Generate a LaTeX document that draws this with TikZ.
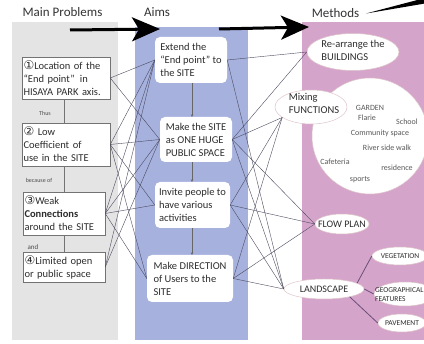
\documentclass[tikz,border=0pt]{standalone}
\usepackage{fontspec}
\setmainfont{Carlito}
\newfontfamily\symfont{DejaVu Sans}
\usetikzlibrary{shapes.geometric,arrows.meta}
\definecolor{panelgray}{RGB}{228,228,228}
\definecolor{panelblue}{RGB}{166,177,222}
\definecolor{panelpink}{RGB}{213,164,203}
\definecolor{linecol}{RGB}{75,75,95}
\definecolor{txtcol}{RGB}{45,45,45}
\definecolor{pinkline}{RGB}{222,196,200}
\definecolor{subline}{RGB}{105,80,120}
\newcommand{\cnum}[1]{{\symfont\fontsize{12}{13}\selectfont #1}}
\begin{document}
\begin{tikzpicture}[x=1pt,y=-1pt,
  every node/.style={text=txtcol},
  header/.style={font=\fontsize{13}{15}\selectfont, text=black!80},
  pbox/.style={draw=black!55, fill=white, line width=0.5pt, align=left, inner xsep=1.5pt, inner ysep=0pt, font=\fontsize{10.5}{13}\selectfont},
  abox/.style={fill=white, rounded corners=5pt, align=left, inner xsep=3pt, inner ysep=0pt, font=\fontsize{10.5}{13}\selectfont},
  meth/.style={ellipse, draw=pinkline, fill=white, line width=0.5pt, inner sep=0pt},
  mtext/.style={font=\fontsize{10.5}{13}\selectfont, align=left, inner sep=0pt},
  stext/.style={font=\fontsize{7.5}{9.5}\selectfont, align=left, inner sep=0pt},
  ctext/.style={font=\fontsize{8}{10}\selectfont, text=black!65, inner sep=0pt},
  small/.style={font=\fontsize{6}{7}\selectfont, text=black!70, inner sep=0pt},
  conn/.style={draw=linecol, line width=0.4pt},
  vline/.style={draw=black!55, line width=0.6pt},
  aline/.style={draw=black!60, line width=0.45pt, -{Stealth[length=2.5pt,width=2.5pt]}},
  bigarrow/.style={line width=3pt, -{Stealth[length=28pt, width=24pt, inset=7pt]}}
]
\useasboundingbox (0,0) rectangle (424,344);
% panels
\fill[panelgray] (12,22) rectangle (118,340);
\fill[panelblue] (135,27) rectangle (248,340);
\fill[panelpink] (302,22) rectangle (426,340);

% headers
\node[header] (h1) at (62.5,12) {Main Problems};
\node[header] (h2) at (157,12) {Aims};
\node[header] (h3) at (335.5,13) {Methods};

% big arrows
\coordinate (ar1s) at (70,30);
\coordinate (ar1e) at (160,29);
\coordinate (ar2s) at (219,29);
\coordinate (ar2e) at (309,27);
\draw[bigarrow] (ar1s) -- (ar1e);
\draw[bigarrow] (ar2s) -- (ar2e);
\fill[black] (366,13.5) -- (425,-2) -- (425,3.5) -- cycle;

% problems
\node[pbox, minimum width=88pt, minimum height=42pt, text width=85pt] (p1) at (66,78)
  {\cnum{①}Location of the\\``End point''\, in\\HISAYA PARK axis.};
\node[pbox, minimum width=88pt, minimum height=43pt, text width=85pt] (p2) at (66,144.5)
  {\cnum{②} Low\\Coefficient of\\use in the SITE};
\node[pbox, minimum width=82pt, minimum height=43pt, text width=79pt] (p3) at (64,213.5)
  {\cnum{③}Weak\\\textbf{Connections}\\around the SITE};
\node[pbox, minimum width=82pt, minimum height=30pt, text width=79pt] (p4) at (64,267)
  {\cnum{④}Limited open\\or public space};

\draw[vline] (p3.north |- p1.south) -- (p3.north |- p2.north);
\draw[vline] (p3.north |- p2.south) -- (p3.north);
\draw[vline] (p3.south) -- (p4.north);
\node[small] (l1) at (45,113) {Thus};
\node[small] (l2) at (39,180) {because of};
\node[small, font=\fontsize{7}{8}\selectfont] (l3) at (33,247) {and};

% aims
\node[abox, minimum width=72pt, minimum height=46pt] (a1) at (191,60)
  {Extend the\\``End point'' to\\the SITE};
\node[abox, minimum width=72pt, minimum height=45pt] (a2) at (196,139.5)
  {Make the SITE\\as ONE HUGE\\PUBLIC SPACE};
\node[abox, minimum width=75pt, minimum height=46pt] (a3) at (192.5,205)
  {Invite people to\\have various\\activities};
\node[abox, minimum width=86pt, minimum height=47pt] (a4) at (190,278.5)
  {Make DIRECTION\\of Users to the\\SITE};

\draw[aline] (a1.south -| 192,0) -- (a2.north -| 192,0);
\draw[aline] (a2.south -| 192,0) -- (a3.north -| 192,0);
\draw[aline] (a3.south -| 192,0) -- (a4.north -| 192,0);

% methods
\node[meth, minimum width=92pt, minimum height=37pt] (m1) at (353,52) {};
\node[mtext] (m1t) at (353,50.5) {Re-arrange the\\BUILDINGS};
\node[circle, fill=white, draw=pinkline, line width=0.5pt, minimum size=116pt, inner sep=0pt] (fc) at (370,136) {};
\node[meth, minimum width=72pt, minimum height=34pt] (m2) at (311,107) {};
\node[mtext] (m2t) at (314,103) {Mixing\\FUNCTIONS};
\node[ctext] (c1) at (370,108) {GARDEN};
\node[ctext] (c2) at (367,118) {Flarie};
\node[ctext] (c3) at (407,122) {School};
\node[ctext] (c4) at (380,133) {Community space};
\node[ctext] (c5) at (387,148) {River side walk};
\node[ctext] (c6) at (335,162) {Cafeteria};
\node[ctext] (c7) at (397,168) {residence};
\node[ctext] (c8) at (360,180) {sports};

\node[meth, minimum width=54pt, minimum height=20pt] (flow) at (342,224) {};
\node[mtext, font=\fontsize{10}{12}\selectfont] (flowt) at (flow) {FLOW PLAN};
\node[meth, minimum width=80pt, minimum height=20pt] (land) at (324,289) {};
\node[mtext, font=\fontsize{10}{12}\selectfont] (landt) at (land) {LANDSCAPE};
\node[meth, minimum width=56pt, minimum height=18pt] (veg) at (400,256) {};
\node[stext] (vegt) at (veg) {VEGETATION};
\node[meth, minimum width=62pt, minimum height=24pt] (geo) at (405,294) {};
\node[stext, anchor=west] (geot) at (375,294.5) {GEOGRAPHICAL\\FEATURES};
\node[meth, minimum width=48pt, minimum height=18pt] (pave) at (402,323) {};
\node[stext] (pavet) at (pave) {PAVEMENT};

\draw[subline, line width=0.8pt] (land.10) -- (veg.west);
\draw[subline, line width=0.8pt] (land.east) -- (geo.west);
\draw[subline, line width=0.8pt] (land.-17) -- (pave.west);

% problem -> aim connectors
\foreach \p/\a in {p1/a1, p1/a2, p2/a1, p2/a2, p2/a3, p2/a4, p3/a1, p3/a2, p3/a3, p3/a4, p4/a1, p4/a2}
  \draw[conn] (\p.east) -- (\a.west);

% aim -> method connectors
\foreach \a/\m in {a1/m1.west, a1/land.west, a2/m1.west, a2/m2.200, a2/flow.west, a2/land.west, a3/m2.200, a3/flow.west, a3/land.west, a4/m2.200, a4/flow.west, a4/land.west}
  \draw[conn] (\a.east) -- (\m);
\end{tikzpicture}
\end{document}
